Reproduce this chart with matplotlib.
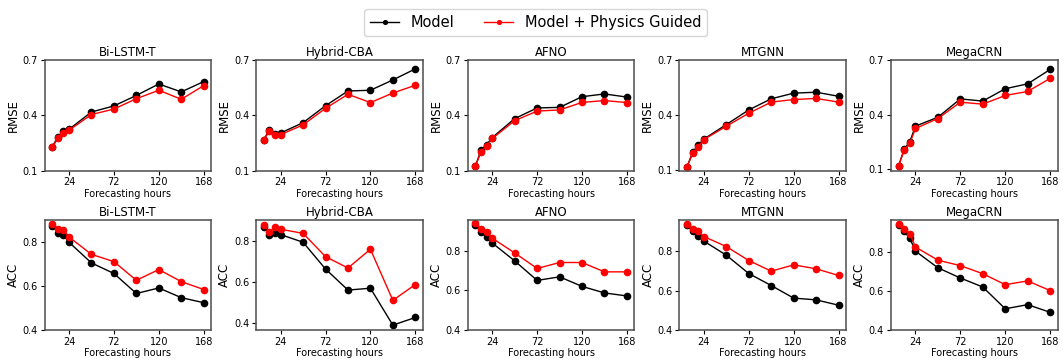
import numpy as np
import matplotlib
matplotlib.use("Agg")
from matplotlib import pyplot as plt

hours = [6, 12, 18, 24, 48, 72, 96, 120, 144, 168]
models = ["Bi-LSTM-T", "Hybrid-CBA", "AFNO", "MTGNN", "MegaCRN"]

# RMSE, plain model vs physics guided
rmse_base = {
    "Bi-LSTM-T": [0.228, 0.283, 0.313, 0.324, 0.418, 0.451, 0.508, 0.570, 0.527, 0.583],
    "Hybrid-CBA": [0.268, 0.322, 0.300, 0.304, 0.360, 0.452, 0.532, 0.536, 0.592, 0.652],
    "AFNO": [0.125, 0.210, 0.241, 0.279, 0.382, 0.440, 0.443, 0.501, 0.516, 0.499],
    "MTGNN": [0.116, 0.195, 0.235, 0.268, 0.347, 0.427, 0.488, 0.519, 0.524, 0.502],
    "MegaCRN": [0.118, 0.210, 0.251, 0.336, 0.385, 0.486, 0.474, 0.542, 0.569, 0.648],
}
rmse_phys = {
    "Bi-LSTM-T": [0.228, 0.274, 0.302, 0.319, 0.404, 0.434, 0.490, 0.536, 0.487, 0.561],
    "Hybrid-CBA": [0.268, 0.313, 0.291, 0.295, 0.348, 0.438, 0.514, 0.469, 0.521, 0.563],
    "AFNO": [0.125, 0.201, 0.234, 0.274, 0.371, 0.423, 0.429, 0.470, 0.480, 0.469],
    "MTGNN": [0.116, 0.189, 0.226, 0.265, 0.338, 0.409, 0.470, 0.484, 0.490, 0.470],
    "MegaCRN": [0.118, 0.205, 0.242, 0.323, 0.378, 0.468, 0.457, 0.505, 0.527, 0.599],
}

# ACC, plain model vs physics guided
acc_base = {
    "Bi-LSTM-T": [0.876, 0.844, 0.832, 0.800, 0.706, 0.658, 0.567, 0.592, 0.548, 0.525],
    "Hybrid-CBA": [0.870, 0.828, 0.839, 0.831, 0.794, 0.664, 0.562, 0.571, 0.392, 0.429],
    "AFNO": [0.930, 0.892, 0.867, 0.838, 0.748, 0.650, 0.668, 0.620, 0.587, 0.572],
    "MTGNN": [0.934, 0.902, 0.878, 0.853, 0.781, 0.688, 0.627, 0.563, 0.554, 0.527],
    "MegaCRN": [0.934, 0.904, 0.868, 0.803, 0.718, 0.666, 0.620, 0.509, 0.530, 0.491],
}
acc_phys = {
    "Bi-LSTM-T": [0.885, 0.859, 0.858, 0.824, 0.745, 0.712, 0.627, 0.676, 0.621, 0.585],
    "Hybrid-CBA": [0.879, 0.845, 0.866, 0.857, 0.837, 0.724, 0.669, 0.760, 0.512, 0.589],
    "AFNO": [0.937, 0.907, 0.895, 0.862, 0.788, 0.710, 0.740, 0.740, 0.693, 0.693],
    "MTGNN": [0.941, 0.915, 0.905, 0.876, 0.825, 0.754, 0.700, 0.732, 0.712, 0.678],
    "MegaCRN": [0.941, 0.916, 0.892, 0.824, 0.757, 0.729, 0.688, 0.632, 0.651, 0.602],
}

fig, axes = plt.subplots(2, 5, figsize=(10.63, 3.64), dpi=100)
fig.subplots_adjust(left=0.042, right=0.995, top=0.835, bottom=0.093,
                    wspace=0.27, hspace=0.445)

rows = [("RMSE", rmse_base, rmse_phys, 0.1, [0.1, 0.4, 0.7]),
        ("ACC", acc_base, acc_phys, 0.4, [0.4, 0.6, 0.8])]

for r, (metric, base, phys, floor, yticks) in enumerate(rows):
    for c, name in enumerate(models):
        ax = axes[r, c]
        ax.plot(hours, base[name], "-o", color="black", lw=1, ms=4.5, label="Model")
        ax.plot(hours, phys[name], "-o", color="red", lw=1, ms=4.5,
                label="Model + Physics Guided")
        lo, hi = ax.get_ylim()
        if metric == "RMSE":
            ax.set_ylim(min(lo, floor), 0.7)
        else:
            ax.set_ylim(min(lo, floor), hi)
        ax.set_yticks(yticks)
        ax.set_xticks([24, 72, 120, 168])
        ax.set_title(name, fontsize=8.5, pad=3)
        ax.set_ylabel(metric, fontsize=8.5, labelpad=2)
        ax.set_xlabel("Forecasting hours", fontsize=7, labelpad=1)
        ax.tick_params(labelsize=7, length=3, pad=2)
        for s in ax.spines.values():
            s.set_color("0.3")
            s.set_linewidth(1.1)

handles, labels = axes[0, 0].get_legend_handles_labels()
leg = fig.legend(handles, labels, loc="upper center", ncol=2, fontsize=10.5,
                 bbox_to_anchor=(0.504, 0.995), markerscale=0.6,
                 columnspacing=2.0, handlelength=2.0)

fig.savefig("out.png", dpi=100)
